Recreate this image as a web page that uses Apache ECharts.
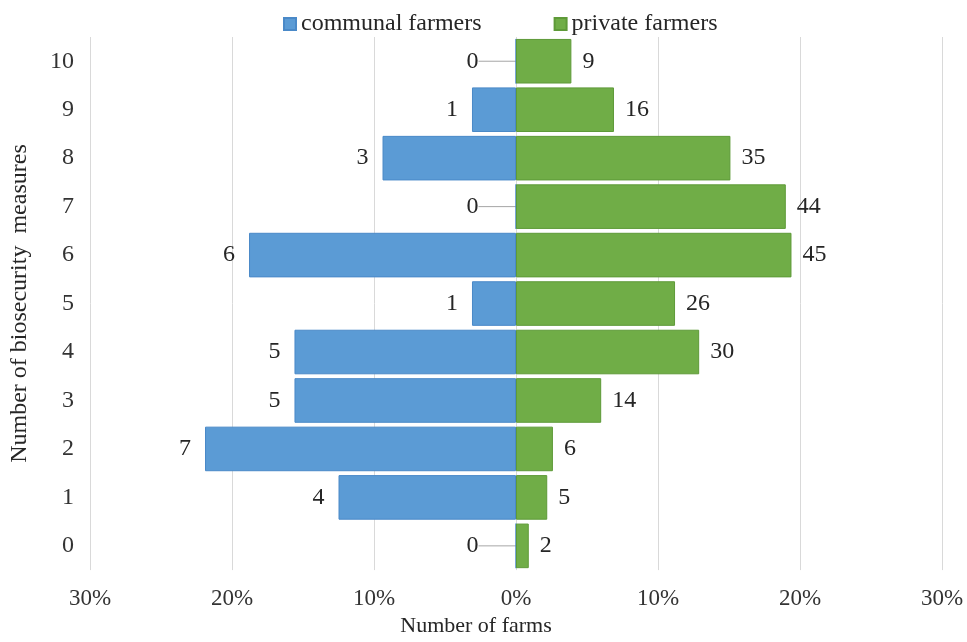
<!DOCTYPE html>
<html>
<head>
<meta charset="utf-8">
<script src="https://cdn.jsdelivr.net/npm/echarts@6/dist/echarts.min.js"></script>
<style>
html,body{margin:0;padding:0;background:#fff;}
#chart{width:967px;height:642px;}
</style>
</head>
<body>
<div id="chart"></div>
<script>
// Data
var categories = ['0','1','2','3','4','5','6','7','8','9','10'];
var communalCounts = [0, 4, 7, 5, 5, 1, 6, 0, 3, 1, 0];
var communalPct    = [0, 12.5, 21.9, 15.6, 15.6, 3.1, 18.8, 0, 9.4, 3.1, 0];
var privateCounts  = [2, 5, 6, 14, 30, 26, 45, 44, 35, 16, 9];
var privatePct     = [0.9, 2.2, 2.6, 6.0, 12.9, 11.2, 19.4, 19.0, 15.1, 6.9, 3.9];

var FONT = '"Liberation Serif", "Times New Roman", serif';
var TXT = '#262626';

var chart = echarts.init(document.getElementById('chart'));

var communalData = communalPct.map(function (v, i) {
  var item = { value: -v, count: communalCounts[i] };
  if (v === 0) {
    item.labelLine = { show: true, lineStyle: { color: '#A6A6A6', width: 1 } };
  }
  return item;
});
var privateData = privatePct.map(function (v, i) {
  return { value: v, count: privateCounts[i] };
});

chart.setOption({
  animation: false,
  textStyle: { fontFamily: FONT },
  legend: {
    top: 7,
    left: 278,
    itemGap: 72,
    itemWidth: 12,
    itemHeight: 12,
    icon: 'rect',
    textStyle: { fontFamily: FONT, fontSize: 24, color: TXT, padding: [0, 0, 10, 0] },
    data: ['communal farmers', 'private farmers']
  },
  grid: { left: 88, right: 25, top: 37, bottom: 58, containLabel: false },
  xAxis: {
    type: 'value',
    min: -30,
    max: 30,
    interval: 10,
    name: 'Number of farms',
    nameLocation: 'middle',
    nameGap: 38,
    nameTextStyle: { fontFamily: FONT, fontSize: 22, color: TXT, padding: [0, 80, 0, 0] },
    axisLine: { show: false },
    axisTick: { show: false },
    axisLabel: {
      margin: 17,
      fontFamily: FONT,
      fontSize: 23,
      color: '#333',
      formatter: function (v) { return Math.abs(v) + '%'; }
    },
    splitLine: { show: true, lineStyle: { color: '#D9D9D9', width: 1 } }
  },
  yAxis: {
    type: 'category',
    data: categories,
    name: 'Number of biosecurity  measures',
    nameLocation: 'middle',
    nameGap: 58,
    nameTextStyle: { fontFamily: FONT, fontSize: 24, color: TXT },
    axisLine: { show: false },
    axisTick: { show: false },
    axisLabel: { margin: 16, fontFamily: FONT, fontSize: 24, color: '#333' }
  },
  series: [
    {
      name: 'communal farmers',
      type: 'bar',
      stack: 'total',
      barCategoryGap: '8%',
      data: communalData,
      itemStyle: { color: '#5B9BD5', borderColor: '#4A89C8', borderWidth: 1 },
      label: {
        show: true,
        position: 'left',
        distance: 14,
        fontFamily: FONT,
        fontSize: 24,
        color: TXT,
        formatter: function (p) { return p.data.count; }
      },
      labelLine: { show: false, lineStyle: { color: '#A6A6A6', width: 1 } },
      labelLayout: function (p) {
        if (communalPct[p.dataIndex] === 0) { return { dx: -23 }; }
        return {};
      }
    },
    {
      name: 'private farmers',
      type: 'bar',
      stack: 'total',
      barCategoryGap: '8%',
      data: privateData,
      itemStyle: { color: '#70AD47', borderColor: '#5E9A38', borderWidth: 1 },
      label: {
        show: true,
        position: 'right',
        distance: 11,
        fontFamily: FONT,
        fontSize: 24,
        color: TXT,
        formatter: function (p) { return p.data.count; }
      }
    }
  ]
});
</script>
</body>
</html>
